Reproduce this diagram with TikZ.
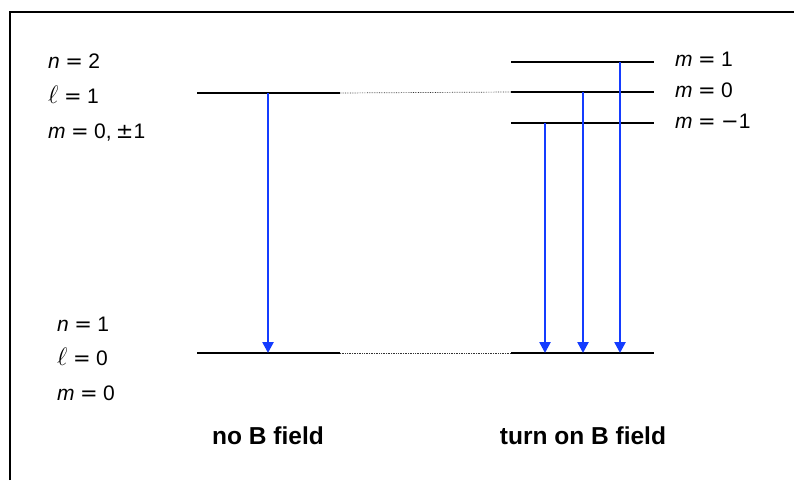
\RequirePackage{fix-cm}
\documentclass[tikz,border=0pt]{standalone}
\usepackage{fontspec}
\setmainfont{Liberation Sans}
\newfontfamily\symf{DejaVu Sans}
\usetikzlibrary{arrows.meta}
\definecolor{arrblue}{RGB}{20,60,255}
\newcommand\eqs{\hspace{0.26em}{\symf =}\hspace{0.26em}}
\newcommand\qn[2]{\textit{#1}\eqs #2}
\newcommand\myell{\scalebox{1.2}{$\ell$}}
\begin{document}
\begin{tikzpicture}[x=1pt,y=-1pt,
  level/.style={line width=2.5pt,black},
  link/.style={densely dotted,line width=0.7pt,black!80},
  trans/.style={line width=2.5pt,arrblue,-{Triangle[length=11pt,width=11pt]},shorten >=0pt},
  lab/.style={anchor=base west,inner sep=0pt,font=\fontsize{21}{24}\selectfont},
  captext/.style={anchor=base,inner sep=0pt,font=\fontsize{24.5}{27}\selectfont\bfseries}]
\useasboundingbox (0,0) rectangle (794,480);
\draw[line width=2pt] (10,480) -- (10,12) -- (794,12);
% levels
\coordinate (La) at (197,93); \coordinate (Lb) at (340,93);
\coordinate (Ga) at (197,353); \coordinate (Gb) at (340,353);
\coordinate (Ra) at (511,92); \coordinate (Rb) at (654,92);
\coordinate (Pa) at (511,62); \coordinate (Pb) at (654,62);
\coordinate (Ma) at (511,123); \coordinate (Mb) at (654,123);
\coordinate (Ha) at (511,353); \coordinate (Hb) at (654,353);
\draw[level] (La) -- (Lb);
\draw[level] (Ga) -- (Gb);
\draw[level] (Pa) -- (Pb);
\draw[level] (Ra) -- (Rb);
\draw[level] (Ma) -- (Mb);
\draw[level] (Ha) -- (Hb);
\draw[link] (Lb) -- (Ra);
\draw[link] (Gb) -- (Ha);
% transitions
\coordinate (t0s) at (268,93); \coordinate (t0e) at (268,353);
\coordinate (t1s) at (545,123); \coordinate (t1e) at (545,353);
\coordinate (t2s) at (583,92); \coordinate (t2e) at (583,353);
\coordinate (t3s) at (620,62); \coordinate (t3e) at (620,353);
\draw[trans] (t0s) -- (t0e);
\draw[trans] (t1s) -- (t1e);
\draw[trans] (t2s) -- (t2e);
\draw[trans] (t3s) -- (t3e);
% labels
\node[lab] (n2) at (48,68) {\qn{n}{2}};
\node[lab] (l1) at (48,103) {\myell\eqs 1};
\node[lab] (m01) at (48,138) {\qn{m}{0,\hspace{0.2em}{\symf ±}1}};
\node[lab] (n1) at (57,331) {\qn{n}{1}};
\node[lab] (l0) at (57,365) {\myell\eqs 0};
\node[lab] (m0) at (57,400) {\qn{m}{0}};
\node[lab] (mp) at (675,66) {\qn{m}{1}};
\node[lab] (mz) at (675,97) {\qn{m}{0}};
\node[lab] (mm) at (675,128) {\qn{m}{{\symf −}1}};
\node[captext] (nob) at (268,444) {no B field};
\node[captext] (onb) at (583,444) {turn on B field};
\end{tikzpicture}
\end{document}
